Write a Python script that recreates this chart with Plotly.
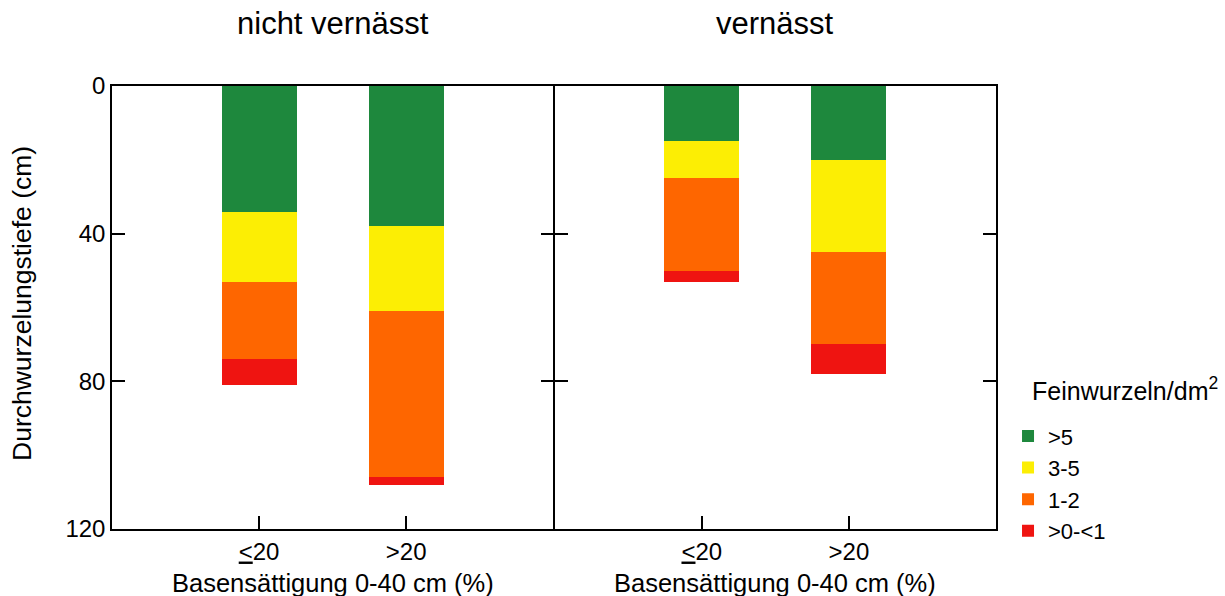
import numpy as np
import plotly.graph_objects as go

# ---- data (depth of lower boundary of each root-density class, cm) ----
categories = ["<=20", ">20"]
tick_text = ["<u>&lt;</u>20", "&gt;20"]
classes = ["&gt;5", "3-5", "1-2", "&gt;0-&lt;1"]
colors = ["#1e883d", "#fcee04", "#fe6600", "#ef1411"]

# nicht vernässt: lower boundaries for [>5, 3-5, 1-2, >0-<1]
nv_le20 = [34, 53, 74, 81]
nv_gt20 = [38, 61, 106, 108]
# vernässt
v_le20 = [15, 25, 50, 53]
v_gt20 = [20, 45, 70, 78]

panel_titles = ["nicht vernässt", "vernässt"]
x_title = "Basensättigung 0-40 cm (%)"
y_title = "Durchwurzelungstiefe (cm)"
legend_title = "Feinwurzeln/dm<sup>2</sup>"
y_ticks = [0, 40, 80, 120]

FONT = "Liberation Sans, Arial, sans-serif"

def thick(d):
    d = np.asarray(d, float)
    return np.diff(np.concatenate([[0.0], d]))

panels = [(nv_le20, nv_gt20, "x", "y"), (v_le20, v_gt20, "x2", "y2")]
xpos = [1, 2]

fig = go.Figure()
for p, (a, b, xa, ya) in enumerate(panels):
    ta, tb = thick(a), thick(b)
    for k in range(4):
        fig.add_trace(go.Bar(
            x=xpos, y=[ta[k], tb[k]], xaxis=xa, yaxis=ya,
            name=classes[k], showlegend=(p == 0),
            marker=dict(color=colors[k], line=dict(width=0)),
            width=0.51,
        ))

LW = 1.5
PLOT_W = 1225 - 112 - 229
gap = LW / 2 / PLOT_W

axis_common = dict(showline=True, linecolor="black", linewidth=LW,
                   ticks="inside", ticklen=13, tickwidth=1.5, tickcolor="black",
                   showgrid=False, zeroline=False,
                   tickfont=dict(family=FONT, size=24, color="black"))

fig.update_layout(
    barmode="stack",
    width=1225, height=596,
    margin=dict(l=112, r=229, t=86, b=67),
    paper_bgcolor="white", plot_bgcolor="white",
    font=dict(family=FONT, size=24, color="black"),
    xaxis=dict(domain=[0, 0.5 - gap], range=[0, 3], tickvals=xpos, ticktext=tick_text,
               mirror=True, anchor="y", **axis_common),
    xaxis2=dict(domain=[0.5 + gap, 1], range=[0, 3], tickvals=xpos, ticktext=tick_text,
                mirror=True, anchor="y2", **axis_common),
    yaxis=dict(range=[120, 0], tickvals=y_ticks, mirror="ticks", anchor="x",
               ticklabelstandoff=0, **axis_common),
    yaxis2=dict(range=[120, 0], tickvals=y_ticks, mirror="ticks", anchor="x2",
                showticklabels=False, **axis_common),
    legend=dict(x=1.0136, xanchor="left", y=0.257, yanchor="top",
                traceorder="normal", tracegroupgap=0,
                font=dict(family=FONT, size=22),
                bgcolor="rgba(0,0,0,0)"),
    showlegend=True,
)

ann = []
for i, t in enumerate(panel_titles):
    ann.append(dict(text=t, x=0.25 + 0.5 * i, y=1.142, xref="paper", yref="paper",
                    xanchor="center", yanchor="middle", showarrow=False,
                    font=dict(family=FONT, size=31)))
    ann.append(dict(text=x_title, x=0.25 + 0.5 * i, y=-0.122, xref="paper", yref="paper",
                    xanchor="center", yanchor="middle", showarrow=False,
                    font=dict(family=FONT, size=25.5)))
ann.append(dict(text=y_title, x=-0.1019, y=0.51, xref="paper", yref="paper",
                xanchor="center", yanchor="middle", textangle=-90, showarrow=False,
                font=dict(family=FONT, size=26.5)))
ann.append(dict(text=legend_title, x=1.0385, y=0.316, xref="paper", yref="paper",
                xanchor="left", yanchor="middle", showarrow=False,
                font=dict(family=FONT, size=25)))
fig.update_layout(annotations=ann)

fig.write_html("out.html")
